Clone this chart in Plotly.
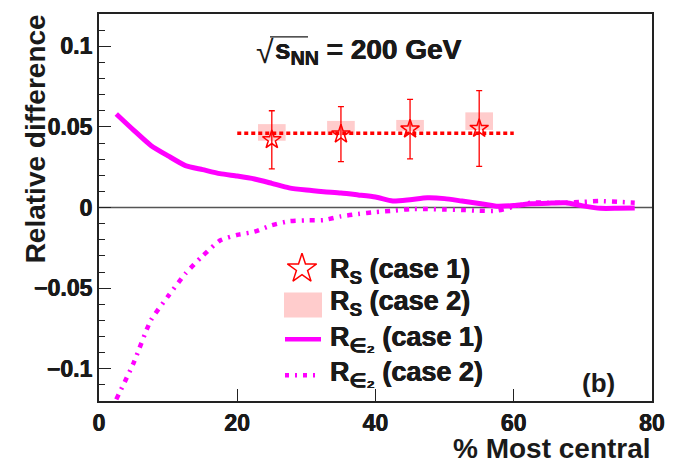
import plotly.graph_objects as go

# ---------------- data ----------------
cent_s = [25, 35, 45, 55]
rs_case1 = [0.042, 0.0455, 0.0486, 0.049]
rs_case1_err = [0.018, 0.017, 0.0185, 0.0235]
rs_case2_low = [0.0414, 0.0450, 0.0475, 0.0481]
rs_case2_high = [0.0517, 0.0537, 0.0543, 0.0590]
box_halfwidth = 2.0

fit_x = [20, 60]
fit_y = [0.046, 0.046]

cent_curve = [2.5, 5, 7.5, 10, 12.5, 15, 17.5, 20, 22.5, 25, 27.5, 30, 32.5, 35, 37.5,
              40, 42.5, 45, 47.5, 50, 52.5, 55, 57.5, 60, 62.5, 65, 67.5, 70, 72.5, 75, 77.5]
reps_case1 = [0.058, 0.048, 0.0385, 0.032, 0.026, 0.0235, 0.021, 0.0195, 0.0177, 0.015,
              0.0122, 0.0108, 0.0098, 0.009, 0.0078, 0.0065, 0.004, 0.0048, 0.006, 0.0055,
              0.004, 0.0025, 0.0008, 0.0012, 0.0023, 0.0027, 0.0029, 0.001, -0.0005, -0.0005, -0.0003]
reps_case2 = [-0.119, -0.0965, -0.070, -0.055, -0.041, -0.030, -0.0205, -0.017, -0.015, -0.011,
              -0.0085, -0.008, -0.0078, -0.0055, -0.004, -0.0028, -0.002, -0.001, -0.001, -0.0012,
              -0.0015, -0.002, -0.002, 0.0005, 0.003, 0.003, 0.003, 0.0035, 0.004, 0.0035, 0.003]

y_tickvals = [-0.1, -0.05, 0, 0.05, 0.1]
y_ticktext = ["\u22120.1", "\u22120.05", "0", "0.05", "0.1"]
x_tickvals = [0, 20, 40, 60, 80]
x_ticktext = ["0", "20", "40", "60", "80"]

legend_labels = ["R<sub>S</sub> (case 1)", "R<sub>S</sub> (case 2)",
                 "R<sub>\u2208\u2082</sub> (case 1)", "R<sub>\u2208\u2082</sub> (case 2)"]

# ---------------- style ----------------
FONT = "Liberation Sans"
TXT = "#1a1a1a"
RED = "#ff0000"
PINK = "rgb(255,204,204)"
MAG = "#ff00ff"
HEAVY = "0.35px 0 0 #1a1a1a, -0.35px 0 0 #1a1a1a"

OFF = 8  # page body margin offset
W, H = 683, 469
# desired plot area on screen: x 99..652, y 12..401
SX0, SX1, SY0, SY1 = 99, 652, 12, 401
L = SX0 - OFF
T = SY0 - OFF
R = W - (SX1 - OFF)
B = H - (SY1 - OFF)
pw, ph = SX1 - SX0, SY1 - SY0


def px(x):
    return (x - SX0) / pw


def py(y):
    return (SY1 - y) / ph


fig = go.Figure()

# case 2 boxes
fig.add_trace(go.Bar(
    x=cent_s, base=rs_case2_low,
    y=[h - l for h, l in zip(rs_case2_high, rs_case2_low)],
    width=[2 * box_halfwidth] * len(cent_s),
    marker=dict(color=PINK, line=dict(width=0)),
    showlegend=False, hoverinfo="skip"))

# average line
fig.add_trace(go.Scatter(x=fit_x, y=fit_y, mode="lines",
                         line=dict(color=RED, width=3.5, dash="4px,3px"),
                         showlegend=False))

# magenta curves
fig.add_trace(go.Scatter(x=cent_curve, y=reps_case1, mode="lines",
                         line=dict(color=MAG, width=5, shape="spline", smoothing=0.6),
                         showlegend=False))
fig.add_trace(go.Scatter(x=cent_curve, y=reps_case2, mode="lines",
                         line=dict(color=MAG, width=4.5, dash="5px,6px,2px,6px",
                                   shape="spline", smoothing=0.6),
                         showlegend=False))

# case 1 stars with errors
fig.add_trace(go.Scatter(
    x=cent_s, y=rs_case1, mode="markers",
    marker=dict(symbol="star-open", size=14, color=RED, line=dict(width=1.5, color=RED)),
    error_y=dict(type="data", array=rs_case1_err, color=RED, thickness=1.3, width=3),
    showlegend=False))

# legend key: star (on hidden overlay axes in paper units)
fig.add_trace(go.Scatter(
    x=[px(302)], y=[py(268)], mode="markers", xaxis="x2", yaxis="y2",
    marker=dict(symbol="star-open", size=22, color=RED, line=dict(width=1.5, color=RED)),
    showlegend=False, hoverinfo="skip"))

shapes = [
    dict(type="line", xref="paper", yref="y", x0=0, x1=1, y0=0, y1=0,
         line=dict(color="#555555", width=1.5), layer="below"),
    dict(type="rect", xref="paper", yref="paper", x0=px(284), x1=px(322), y0=py(317), y1=py(292),
         fillcolor=PINK, line=dict(width=0)),
    dict(type="line", xref="paper", yref="paper", x0=px(285), x1=px(321), y0=py(339), y1=py(339),
         line=dict(color=MAG, width=4.5)),
    dict(type="line", xref="paper", yref="paper", x0=px(285), x1=px(321), y0=py(375), y1=py(375),
         line=dict(color=MAG, width=4.5, dash="4px,6px,2px,6px")),
    dict(type="line", xref="paper", yref="paper", x0=px(270), x1=px(308), y0=py(35), y1=py(35),
         line=dict(color=TXT, width=1.2)),
]

annotations = []
rows_y = [270, 302, 339, 374]
for lab, yy in zip(legend_labels, rows_y):
    annotations.append(dict(xref="paper", yref="paper", x=px(328), y=py(yy), text="<b>" + lab + "</b>",
                            showarrow=False, xanchor="left", yanchor="middle",
                            font=dict(family=FONT, size=27, color=TXT, weight=700, shadow=HEAVY)))
annotations += [
    dict(xref="paper", yref="paper", x=px(265), y=py(50), text="\u221a", showarrow=False,
         xanchor="center", yanchor="middle", font=dict(family=FONT, size=32, color=TXT)),
    dict(xref="paper", yref="paper", x=px(273), y=py(50), text="<b>s<sub>NN</sub> = 200 GeV</b>",
         showarrow=False, xanchor="left", yanchor="middle",
         font=dict(family=FONT, size=28, color=TXT, weight=700, shadow=HEAVY)),
    dict(xref="paper", yref="paper", x=px(598), y=py(383), text="<b>(b)</b>", showarrow=False,
         xanchor="center", yanchor="middle", font=dict(family=FONT, size=26, color=TXT, weight=700)),
    dict(xref="paper", yref="paper", x=px(653), y=py(449), text="<b>% Most central</b>", showarrow=False,
         xanchor="right", yanchor="middle", font=dict(family=FONT, size=28, color=TXT, weight=700)),
    dict(xref="paper", yref="paper", x=px(35), y=py(138), text="<b>Relative difference</b>", showarrow=False,
         textangle=-90, xanchor="center", yanchor="middle",
         font=dict(family=FONT, size=28, color=TXT, weight=700)),
]

tickfont = dict(family=FONT, size=23, color=TXT, weight=700, shadow=HEAVY)

fig.update_layout(
    width=W, height=H,
    margin=dict(l=L, r=R, t=T, b=B, pad=0),
    paper_bgcolor="white", plot_bgcolor="white",
    font=dict(family=FONT, color=TXT),
    shapes=shapes, annotations=annotations,
    showlegend=False, barmode="overlay",
    xaxis=dict(range=[0, 80], tickvals=x_tickvals, ticktext=x_ticktext,
               ticks="inside", ticklen=12, tickwidth=1.3, tickcolor="#222",
               showline=True, linecolor="#222", linewidth=2, mirror=True,
               showgrid=False, zeroline=False, tickfont=tickfont),
    yaxis=dict(range=[-0.12, 0.12], tickvals=y_tickvals, ticktext=y_ticktext,
               ticks="inside", ticklen=12, tickwidth=1.3, tickcolor="#222",
               minor=dict(dtick=0.01, tick0=0, ticks="inside", ticklen=6, tickwidth=1.2, tickcolor="#222"),
               showline=True, linecolor="#222", linewidth=2, mirror=True,
               showgrid=False, zeroline=False, tickfont=tickfont),
    xaxis2=dict(overlaying="x", range=[0, 1], visible=False),
    yaxis2=dict(overlaying="y", range=[0, 1], visible=False),
)

fig.write_html("out.html")
